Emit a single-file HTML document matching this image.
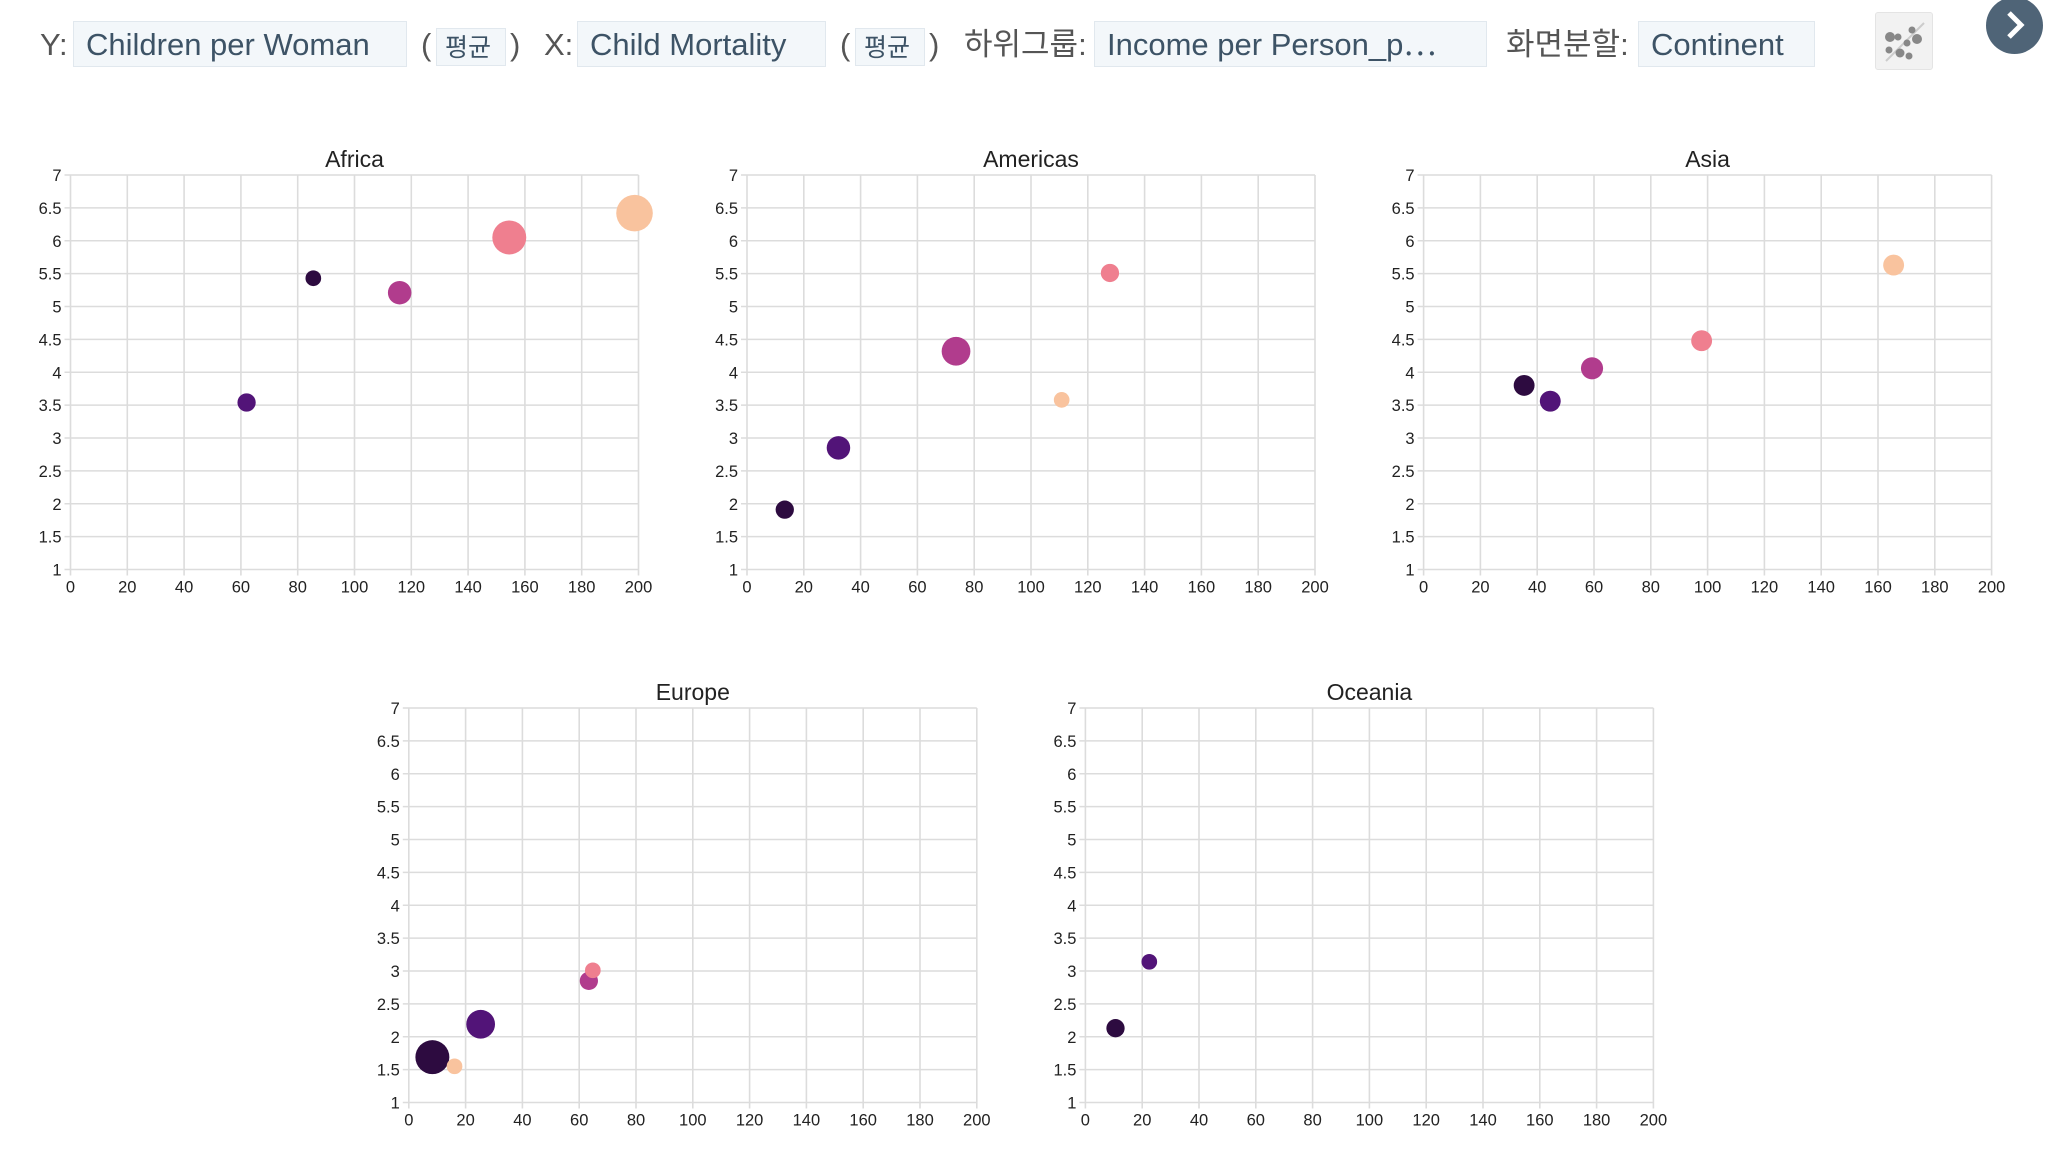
<!DOCTYPE html>
<html><head><meta charset="utf-8">
<style>
html,body{margin:0;padding:0;background:#fff;width:2048px;height:1160px;overflow:hidden;font-family:"Liberation Sans","Noto Sans CJK KR",sans-serif;}
.lbl{position:absolute;top:22px;height:46px;line-height:46px;font-size:31px;color:#555;white-space:nowrap;}
.box{position:absolute;top:21px;height:46px;line-height:46px;font-size:31px;color:#3d5366;background:#f3f7fa;border:1px solid #e1e8ee;padding:0 12px;box-sizing:border-box;white-space:nowrap;overflow:hidden;}
.sm{font-size:25px;padding:0 8px;top:28px;height:38px;line-height:38px;}
</style></head>
<body>
<div class="lbl" style="left:40px">Y:</div>
<div class="box" style="left:73px;width:334px">Children per Woman</div>
<div class="lbl" style="left:421px">(</div>
<div class="box sm" style="left:436px;width:70px">평균</div>
<div class="lbl" style="left:510px">)</div>
<div class="lbl" style="left:544px">X:</div>
<div class="box" style="left:577px;width:249px">Child Mortality</div>
<div class="lbl" style="left:840px">(</div>
<div class="box sm" style="left:855px;width:70px">평균</div>
<div class="lbl" style="left:929px">)</div>
<div class="lbl" style="left:964px">하위그룹:</div>
<div class="box" style="left:1094px;width:393px">Income per Person_p⋯</div>
<div class="lbl" style="left:1506px">화면분할:</div>
<div class="box" style="left:1638px;width:177px">Continent</div>
<div style="position:absolute;left:1875px;top:12px;width:58px;height:58px;background:#f2f2f2;border:1px solid #e4e4e4;box-sizing:border-box;border-radius:3px">
<svg width="58" height="58" viewBox="0 0 58 58"><line x1="10" y1="48" x2="48" y2="10" stroke="#ccc" stroke-width="2"/><g fill="#888"><circle cx="14" cy="24" r="5"/><circle cx="22" cy="24" r="3.5"/><circle cx="36" cy="17" r="3.5"/><circle cx="41" cy="26" r="5"/><circle cx="31" cy="30" r="3.5"/><circle cx="13" cy="37" r="3.5"/><circle cx="24" cy="40" r="4.5"/><circle cx="33" cy="43" r="3.5"/></g></svg>
</div>
<div style="position:absolute;left:1986px;top:-3px;width:57px;height:57px;border-radius:50%;background:#4f6477">
<svg width="57" height="57"><polyline points="23,16 35,28 23,40" fill="none" stroke="#fff" stroke-width="5"/></svg>
</div>
<svg id="chart" width="2048" height="1160" style="position:absolute;left:0;top:0"></svg>
<script>
const facets = ["Africa","Americas","Asia","Europe","Oceania"];
const colors = ["#2d0b40","#521478","#b13c8d","#ef7f8f","#f9c39e"];
const xTicks = [0,20,40,60,80,100,120,140,160,180,200];
const yTicks = [1,1.5,2,2.5,3,3.5,4,4.5,5,5.5,6,6.5,7];
const yTickLabels = ["1","1.5","2","2.5","3","3.5","4","4.5","5","5.5","6","6.5","7"];
const africaX = [85.5,62,115.9,154.5,198.6];
const africaY = [5.43,3.54,5.21,6.05,6.42];
const africaS = [36,49,81,169,196];
const africaG = [0,1,2,3,4];
const americasX = [13.3,32.2,73.6,127.8,110.8];
const americasY = [1.91,2.85,4.32,5.51,3.58];
const americasS = [49,81,121,49,36];
const americasG = [0,1,2,3,4];
const asiaX = [35.4,44.6,59.3,97.9,165.5];
const asiaY = [3.80,3.56,4.06,4.48,5.63];
const asiaS = [64,64,72,64,64];
const asiaG = [0,1,2,3,4];
const europeX = [8.3,25.3,63.4,64.8,16.1];
const europeY = [1.69,2.19,2.85,3.01,1.55];
const europeS = [169,121,49,36,36];
const europeG = [0,1,2,3,4];
const oceaniaX = [10.6,22.5];
const oceaniaY = [2.13,3.14];
const oceaniaS = [49,36];
const oceaniaG = [0,1];
const facetData = [
  [africaX,africaY,africaS,africaG],[americasX,americasY,americasS,americasG],
  [asiaX,asiaY,asiaS,asiaG],[europeX,europeY,europeS,europeG],[oceaniaX,oceaniaY,oceaniaS,oceaniaG]];
const origins = [[70.5,175],[747,175],[1423.6,175],[408.8,708],[1085.4,708]];
const W = 568, H = 394.5;
const NS = "http://www.w3.org/2000/svg";
const svg = document.getElementById('chart');
function mk(tag, attrs, parent){const e=document.createElementNS(NS,tag);for(const k in attrs)e.setAttribute(k,attrs[k]);parent.appendChild(e);return e;}
facets.forEach((name,fi)=>{
  const [ox,oy] = origins[fi];
  const xs = v => ox + (v-0)/200*W;
  const ys = v => oy + (7-v)/6*H;
  const g = mk('g',{},svg);
  
  
  const t = mk('text',{x:ox+W/2,y:oy-8,'text-anchor':'middle','font-size':23,fill:'#222'},g);
  t.textContent = name;
  
  
  xTicks.forEach(v=>{
    const l = mk('line',{x1:xs(v),x2:xs(v),y1:oy,y2:oy+H+6,stroke:'#dcdcdc','stroke-width':1.6},g);
    
    
    const tx = mk('text',{x:xs(v),y:oy+H+23,'text-anchor':'middle','font-size':16.5,fill:'#222'},g);
    tx.textContent = v;
    
    
  });
  yTicks.forEach((v,i)=>{
    const l = mk('line',{x1:ox-6,x2:ox+W,y1:ys(v),y2:ys(v),stroke:'#dcdcdc','stroke-width':1.6},g);
    
    
    const ty = mk('text',{x:ox-9,y:ys(v)+6,'text-anchor':'end','font-size':16.5,fill:'#222'},g);
    ty.textContent = yTickLabels[i];
    
    
  });
  const [X,Y,S,G] = facetData[fi];
  const idx = X.map((_,i)=>i).sort((a,b)=>S[b]-S[a]);
  idx.forEach(i=>{
    const c = mk('circle',{cx:xs(X[i]),cy:ys(Y[i]),r:1.306*Math.sqrt(S[i]),fill:colors[G[i]]},g);
    
    
  });
});
</script>
</body></html>
